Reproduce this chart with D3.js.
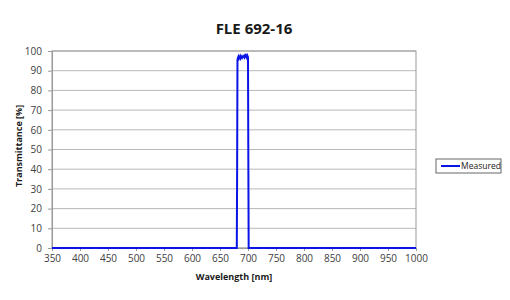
<!DOCTYPE html>
<html>
<head>
<meta charset="utf-8">
<script src="https://cdn.jsdelivr.net/npm/d3@7"></script>
<style>
  body { margin: 0; background: #fff; }
  text { font-family: "Open Sans", "Liberation Sans", sans-serif; }
</style>
</head>
<body>
<svg width="510" height="300"></svg>
<script>
const width = 510;
const height = 300;
const margin = {left: 52, right: 94, top: 51, bottom: 52};

// measured transmission curve
const wavelengths = [350, 500, 650, 680, 680.6, 681.2, 682, 683, 684, 685, 686, 687, 688, 689, 690, 691, 692,
  693, 694, 695, 696, 697, 698, 699, 700, 700.6, 701.2, 750, 850, 1000];
const transmittance = [0, 0, 0, 0, 40, 95.5, 96.5, 97.2, 96.2, 96.8, 97.4, 96.3, 96.9, 97.3, 96.6, 97.0, 97.2,
  97.6, 96.8, 97.4, 97.9, 97.1, 96.5, 97.5, 96.8, 45, 0, 0, 0, 0];
const xTicks = d3.range(350, 1001, 50);
const yTicks = d3.range(0, 101, 10);
const seriesName = "Measured";
const title = "FLE 692-16";

const data = wavelengths.map((w, i) => ({w: w, t: transmittance[i]}));

const svg = d3.select("svg");

const xScale = d3.scaleLinear()
  .domain([350, 1000])
  .range([margin.left, width - margin.right]);

const yScale = d3.scaleLinear()
  .domain([0, 100])
  .range([height - margin.bottom, margin.top]);

// gridlines
svg.append("g")
  .selectAll("line")
  .data(yTicks)
  .enter()
  .append("line")
    .attr("x1", xScale(350))
    .attr("x2", xScale(1000))
    .attr("y1", d => yScale(d))
    .attr("y2", d => yScale(d))
    .attr("stroke", "#b8b8b8")
    .attr("stroke-width", 1);

// plot border
svg.append("rect")
  .attr("x", xScale(350))
  .attr("y", yScale(100))
  .attr("width", xScale(1000) - xScale(350))
  .attr("height", yScale(0) - yScale(100))
  .attr("fill", "none")
  .attr("stroke", "#999")
  .attr("stroke-width", 1);

// axes
const xAxis = d3.axisBottom(xScale)
  .tickValues(xTicks)
  .tickFormat(d3.format("d"))
  .tickSize(3)
  .tickSizeOuter(0)
  .tickPadding(4);

const yAxis = d3.axisLeft(yScale)
  .tickValues(yTicks)
  .tickSize(4)
  .tickSizeOuter(0)
  .tickPadding(6);

const gx = svg.append("g")
  .attr("transform", `translate(0, ${yScale(0)})`)
  .call(xAxis);

const gy = svg.append("g")
  .attr("transform", `translate(${xScale(350)}, 0)`)
  .call(yAxis);

[gx, gy].forEach(g => {
  g.select(".domain").attr("stroke", "#999");
  g.selectAll(".tick line").attr("stroke", "#999");
  g.selectAll(".tick text")
    .attr("fill", "#404040")
    .style("font-size", "10px");
});

// curve
const line = d3.line()
  .x(d => xScale(d.w))
  .y(d => yScale(d.t));

svg.append("path")
  .datum(data)
  .attr("d", line)
  .attr("fill", "none")
  .attr("stroke", "#0a14e6")
  .attr("stroke-width", 2);

// labels
svg.append("text")
  .attr("x", 254)
  .attr("y", 34)
  .style("text-anchor", "middle")
  .style("font-size", "15px")
  .style("font-weight", "bold")
  .attr("fill", "#1a1a1a")
  .text(title);

svg.append("text")
  .attr("x", (xScale(350) + xScale(1000)) / 2)
  .attr("y", 280)
  .style("text-anchor", "middle")
  .style("font-size", "9px")
  .style("font-weight", "bold")
  .attr("fill", "#1a1a1a")
  .text("Wavelength [nm]");

svg.append("text")
  .attr("transform", "rotate(-90)")
  .attr("x", -146)
  .attr("y", 22)
  .style("text-anchor", "middle")
  .style("font-size", "9px")
  .style("font-weight", "bold")
  .attr("fill", "#1a1a1a")
  .text("Transmittance [%]");

// legend
const legend = svg.append("g").attr("transform", "translate(436, 159)");
legend.append("rect")
  .attr("width", 65)
  .attr("height", 14)
  .attr("fill", "#fff")
  .attr("stroke", "#666")
  .attr("stroke-width", 1);
legend.append("line")
  .attr("x1", 5).attr("x2", 24)
  .attr("y1", 7).attr("y2", 7)
  .attr("stroke", "#0a14e6")
  .attr("stroke-width", 2);
legend.append("text")
  .attr("x", 25)
  .attr("y", 10)
  .style("font-size", "8.5px")
  .attr("fill", "#1a1a1a")
  .text(seriesName);
</script>
</body>
</html>
